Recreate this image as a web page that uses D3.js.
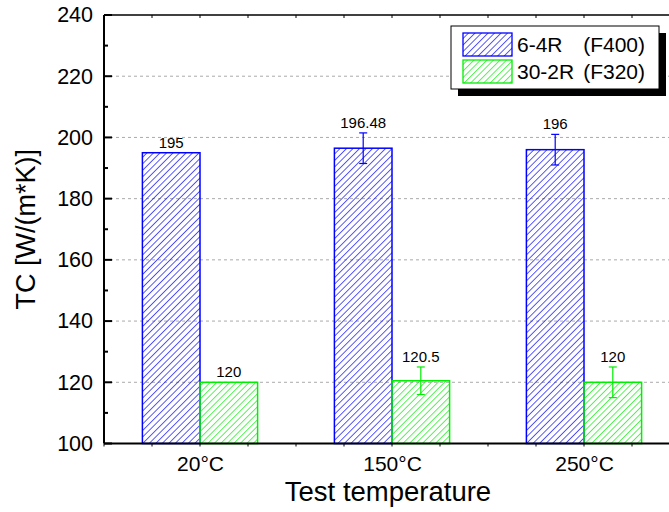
<!DOCTYPE html>
<html>
<head>
<meta charset="utf-8">
<script src="https://cdn.jsdelivr.net/npm/d3@7"></script>
<style>
  body { margin: 0; background: #fff; }
  svg { display: block; font-family: "Liberation Sans", Arial, sans-serif; }
</style>
</head>
<body>
<div id="chart"></div>
<script>
// chart values
const categories = ['20°C', '150°C', '250°C'];
const seriesNames = ['6-4R', '30-2R'];
const seriesCodes = ['(F400)', '(F320)'];
const values64R = [195, 196.48, 196];
const errors64R = [0, 5, 5];
const labels64R = ['195', '196.48', '196'];
const values302R = [120, 120.5, 120];
const errors302R = [0, 4.5, 5];
const labels302R = ['120', '120.5', '120'];
const yTicks = [100, 120, 140, 160, 180, 200, 220, 240];

const width = 669;
const height = 512;
const colors = ['#0000ff', '#00ee00'];

const svg = d3.select('#chart').append('svg')
  .attr('width', width)
  .attr('height', height);

svg.append('rect').attr('width', width).attr('height', height).attr('fill', '#fff');

const x = d3.scaleLinear().domain([0.5, 3.5]).range([104, 680]);
const y = d3.scaleLinear().domain([100, 240]).range([443.5, 15]);
const barW = 0.3;

// hatch patterns
const defs = svg.append('defs');
colors.forEach((c, i) => {
  const p = defs.append('pattern')
    .attr('id', 'hatch' + i)
    .attr('patternUnits', 'userSpaceOnUse')
    .attr('width', 4.6)
    .attr('height', 4.6)
    .attr('patternTransform', 'rotate(45)');
  p.append('line')
    .attr('x1', 0).attr('y1', 0).attr('x2', 0).attr('y2', 4.6)
    .attr('stroke', c).attr('stroke-width', 1.3);
});

// grid
svg.append('g')
  .selectAll('line')
  .data(yTicks.filter((t) => t > 100 && t < 240))
  .join('line')
  .attr('x1', x(0.5)).attr('x2', width)
  .attr('y1', (d) => y(d)).attr('y2', (d) => y(d))
  .attr('stroke', '#aaa')
  .attr('stroke-dasharray', '3,3');

const series = [
  { values: values64R, errors: errors64R, labels: labels64R, offset: -barW },
  { values: values302R, errors: errors302R, labels: labels302R, offset: 0 }
];

series.forEach((s, si) => {
  const g = svg.append('g');
  const rows = s.values.map((v, i) => ({ v, e: s.errors[i], label: s.labels[i], c: i + 1 }));

  g.selectAll('rect')
    .data(rows)
    .join('rect')
    .attr('x', (d) => x(d.c + s.offset))
    .attr('width', x(barW) - x(0))
    .attr('y', (d) => y(d.v))
    .attr('height', (d) => y(100) - y(d.v))
    .attr('fill', `url(#hatch${si})`)
    .attr('stroke', colors[si])
    .attr('stroke-width', 1.5);

  const eb = g.selectAll('g.err')
    .data(rows.filter((d) => d.e > 0))
    .join('g')
    .attr('class', 'err')
    .attr('stroke', colors[si])
    .attr('stroke-width', 1.2);
  const cx = (d) => x(d.c + s.offset + barW / 2);
  eb.append('line')
    .attr('x1', cx).attr('x2', cx)
    .attr('y1', (d) => y(d.v + d.e)).attr('y2', (d) => y(d.v - d.e));
  eb.append('line')
    .attr('x1', (d) => cx(d) - 4).attr('x2', (d) => cx(d) + 4)
    .attr('y1', (d) => y(d.v + d.e)).attr('y2', (d) => y(d.v + d.e));
  eb.append('line')
    .attr('x1', (d) => cx(d) - 4).attr('x2', (d) => cx(d) + 4)
    .attr('y1', (d) => y(d.v - d.e)).attr('y2', (d) => y(d.v - d.e));

  g.selectAll('text')
    .data(rows)
    .join('text')
    .attr('x', cx)
    .attr('y', (d) => y(d.v + d.e) - 5)
    .attr('text-anchor', 'middle')
    .attr('font-size', 15)
    .text((d) => d.label);
});

// axes
const yAxis = d3.axisLeft(y).tickValues(yTicks).tickSize(0).tickPadding(11).tickFormat(d3.format('d'));
const yg = svg.append('g').attr('transform', `translate(${x(0.5)},0)`).call(yAxis);
yg.select('.domain').remove();
yg.selectAll('text').attr('font-size', 21.5).attr('fill', '#000');

const yMinor = d3.range(100, 241, 10);
svg.append('g')
  .selectAll('line')
  .data(yMinor)
  .join('line')
  .attr('x1', x(0.5))
  .attr('x2', (d) => x(0.5) + (d % 20 === 0 ? 8 : 4))
  .attr('y1', (d) => y(d)).attr('y2', (d) => y(d))
  .attr('stroke', '#000').attr('stroke-width', 2);

const xAxis = d3.axisBottom(x).tickValues([1, 2, 3]).tickSize(0).tickPadding(13)
  .tickFormat((d) => categories[d - 1]);
const xg = svg.append('g').attr('transform', `translate(0,${y(100)})`).call(xAxis);
xg.select('.domain').remove();
xg.selectAll('text').attr('font-size', 21).attr('fill', '#000');

const xMinor = d3.range(0.5, 3.51, 0.25);
svg.append('g')
  .selectAll('line')
  .data(xMinor)
  .join('line')
  .attr('x1', (d) => x(d)).attr('x2', (d) => x(d))
  .attr('y1', y(100)).attr('y2', y(100) + 3)
  .attr('stroke', '#000').attr('stroke-width', 1);
svg.append('g')
  .selectAll('line')
  .data(xMinor)
  .join('line')
  .attr('x1', (d) => x(d)).attr('x2', (d) => x(d))
  .attr('y1', y(240)).attr('y2', y(240) + 3)
  .attr('stroke', '#000').attr('stroke-width', 1);

// frame lines
svg.append('line')
  .attr('x1', x(0.5)).attr('x2', x(0.5)).attr('y1', y(240)).attr('y2', y(100))
  .attr('stroke', '#000').attr('stroke-width', 2);
svg.append('line')
  .attr('x1', x(0.5)).attr('x2', width).attr('y1', y(100)).attr('y2', y(100))
  .attr('stroke', '#000').attr('stroke-width', 2);
svg.append('line')
  .attr('x1', x(0.5)).attr('x2', width).attr('y1', y(240)).attr('y2', y(240))
  .attr('stroke', '#000').attr('stroke-width', 1.5);

// axis titles
svg.append('text')
  .attr('transform', `translate(35,${(y(100) + y(240)) / 2}) rotate(-90)`)
  .attr('text-anchor', 'middle')
  .attr('font-size', 27)
  .text('TC [W/(m*K)]');
svg.append('text')
  .attr('x', 388).attr('y', 501)
  .attr('text-anchor', 'middle')
  .attr('font-size', 27.5)
  .text('Test temperature');

// legend
const lg = svg.append('g');
lg.append('rect').attr('x', 458).attr('y', 33).attr('width', 208).attr('height', 63).attr('fill', '#000');
lg.append('rect').attr('x', 451).attr('y', 26).attr('width', 208).attr('height', 63)
  .attr('fill', '#fff').attr('stroke', '#000').attr('stroke-width', 1);
seriesNames.forEach((name, i) => {
  const top = 33 + i * 27;
  lg.append('rect').attr('x', 463).attr('y', top).attr('width', 49).attr('height', 23)
    .attr('fill', `url(#hatch${i})`).attr('stroke', colors[i]).attr('stroke-width', 1.3);
  lg.append('text').attr('x', 517).attr('y', top + 19).attr('font-size', 21).text(name);
  lg.append('text').attr('x', 645).attr('y', top + 19).attr('font-size', 21)
    .attr('text-anchor', 'end').text(seriesCodes[i]);
});
</script>
</body>
</html>
